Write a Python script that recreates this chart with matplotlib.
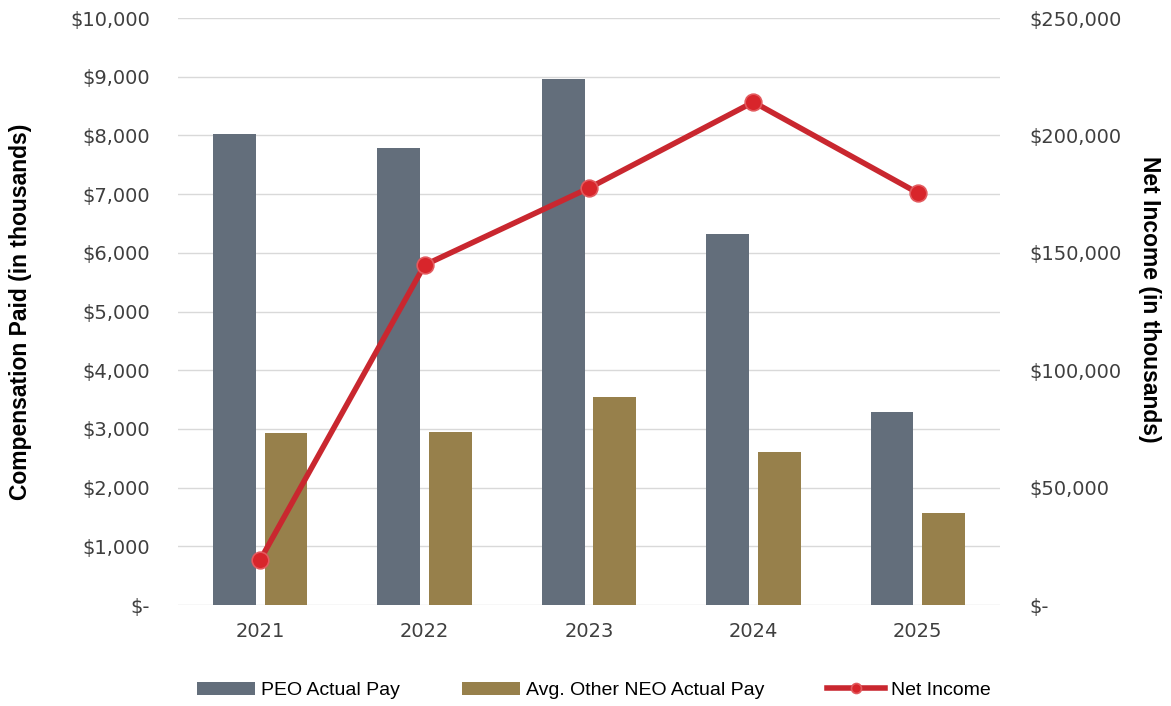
import numpy as np
import matplotlib.pyplot as plt
from matplotlib.ticker import FuncFormatter

# data (thousands)
years = ['2021', '2022', '2023', '2024', '2025']
peo_pay = [8030, 7790, 8960, 6320, 3290]
neo_pay = [2930, 2950, 3540, 2610, 1570]
net_income = [19200, 144800, 177600, 214200, 175500]

gray = '#636E7B'
gold = '#97804B'
red = '#C9272F'

def money(v, pos):
    if v == 0:
        return '$-'
    return '${:,.0f}'.format(v)

fig = plt.figure(figsize=(11.71, 7.06), dpi=100)
ax = fig.add_axes([0.152, 0.143, 0.702, 0.8315])
x = np.arange(len(years))
w = 0.26
ax.bar(x - 0.157, peo_pay, w, color=gray, label='PEO Actual Pay', zorder=2)
ax.bar(x + 0.157, neo_pay, w, color=gold, label='Avg. Other NEO Actual Pay', zorder=2)

ax.set_xlim(-0.5, 4.5)
ax.set_ylim(0, 10000)
ax.set_yticks(np.arange(0, 10001, 1000))
ax.yaxis.set_major_formatter(FuncFormatter(money))
ax.set_xticks(x)
ax.set_xticklabels(years)
ax.grid(axis='y', color='#D9D9D9', linewidth=1, zorder=0)
ax.set_axisbelow(True)
for s in ax.spines.values():
    s.set_visible(False)
ax.tick_params(axis='y', length=0, pad=20, labelsize=14, labelcolor='#3F3F3F')
ax.tick_params(axis='x', length=0, pad=12, labelsize=14, labelcolor='#3F3F3F')
ax.set_ylabel('Compensation Paid (in thousands)', fontsize=16.5, fontweight='bold',
              family='Liberation Sans')
ax.yaxis.set_label_coords(-0.178, 0.5)

ax2 = ax.twinx()
ax2.plot(x, net_income, color=red, linewidth=4, marker='o', markersize=12,
         markerfacecolor='#D8252B', markeredgecolor='#E25A5E', markeredgewidth=1.2,
         label='Net Income', zorder=3)
ax2.set_ylim(0, 250000)
ax2.set_yticks(np.arange(0, 250001, 50000))
ax2.yaxis.set_major_formatter(FuncFormatter(money))
for s in ax2.spines.values():
    s.set_visible(False)
ax2.tick_params(axis='y', length=0, pad=21, labelsize=14, labelcolor='#3F3F3F')
ax2.set_ylabel('Net Income (in thousands)', fontsize=16.5, fontweight='bold',
               family='Liberation Sans', rotation=270, va='bottom')
ax2.yaxis.set_label_coords(1.168, 0.52)

h1, l1 = ax.get_legend_handles_labels()
h2, l2 = ax2.get_legend_handles_labels()
fig.legend(h1 + h2, l1 + l2, loc='center', bbox_to_anchor=(0.507, 0.022), ncol=3,
           frameon=False, prop={'family': 'Liberation Sans', 'size': 14},
           handlelength=3.0, handletextpad=0.3, columnspacing=3.2, markerscale=0.6)

fig.savefig('out.png', dpi=100)
